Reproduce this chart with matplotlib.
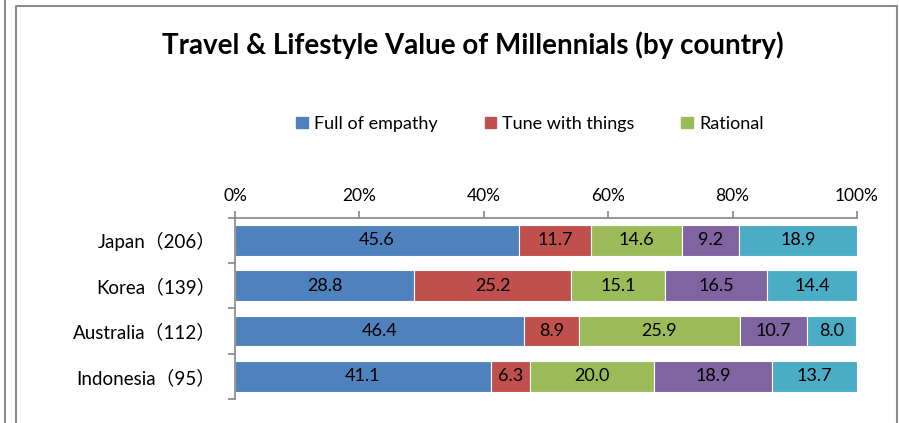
import matplotlib
matplotlib.use("Agg")
import matplotlib.pyplot as plt
from matplotlib.lines import Line2D
from matplotlib.ticker import FixedLocator, FuncFormatter
import numpy as np

plt.rcParams['font.family'] = ['Lato', 'Noto Sans CJK JP', 'DejaVu Sans']

countries = ["Japan（206）", "Korea（139）", "Australia（112）", "Indonesia（95）"]
full_of_empathy = [45.6, 28.8, 46.4, 41.1]
tune_with_things = [11.7, 25.2, 8.9, 6.3]
rational = [14.6, 15.1, 25.9, 20.0]
fourth_type = [9.2, 16.5, 10.7, 18.9]
fifth_type = [18.9, 14.4, 8.0, 13.7]
legend_labels = ["Full of empathy", "Tune with things", "Rational"]
x_ticks = [0, 20, 40, 60, 80, 100]

series = [full_of_empathy, tune_with_things, rational, fourth_type, fifth_type]
colors = ["#4F81BD", "#C0504D", "#9BBB59", "#8064A2", "#4BACC6"]
labels = legend_labels + ["_nolegend_", "_nolegend_"]

W, H = 899, 423
fig = plt.figure(figsize=(W / 100, H / 100), dpi=100)
ax = fig.add_axes([235 / W, 1 - 399 / H, (857 - 235) / W, (399 - 217.7) / H])

y = np.arange(len(countries))
left = np.zeros(len(countries))
for vals, col, lab in zip(series, colors, labels):
    vals = np.array(vals)
    ax.barh(y, vals, left=left, height=0.68, color=col,
            edgecolor="white", linewidth=0.8, label=lab)
    for yi, l, v in zip(y, left, vals):
        ax.text(l + v / 2, yi, f"{v:.1f}", ha="center", va="center",
                fontsize=13, color="black")
    left += vals

ax.set_xlim(0, 100)
ax.set_ylim(len(countries) - 0.5, -0.5)

ax.xaxis.set_ticks_position("top")
ax.xaxis.set_label_position("top")
ax.set_xticks(x_ticks)
ax.xaxis.set_major_formatter(FuncFormatter(lambda v, p: f"{int(v)}%"))
ax.tick_params(axis="x", which="major", direction="out", length=5,
               color="#868686", width=1.2, labelsize=12.5, pad=5)

ax.set_yticks(y)
ax.set_yticklabels(countries)
ax.yaxis.set_minor_locator(FixedLocator(np.arange(-0.5, len(countries), 1.0)))
ax.tick_params(axis="y", which="major", length=0, labelsize=13.5, pad=14)
ax.tick_params(axis="y", which="minor", direction="out", length=5,
               color="#868686", width=1.2)

for side in ("right", "bottom"):
    ax.spines[side].set_visible(False)
for side in ("top", "left"):
    ax.spines[side].set_color("#868686")
    ax.spines[side].set_linewidth(1.2)

fig.text(473 / W, 1 - 45 / H, "Travel & Lifestyle Value of Millennials (by country)",
         ha="center", va="center", fontsize=20, fontweight="bold", color="black")

handles = [plt.Rectangle((0, 0), 1, 1, color=c) for c in colors[:3]]
fig.legend(handles, legend_labels, loc="center", bbox_to_anchor=(530 / W, 1 - 124 / H),
           ncol=3, frameon=False, fontsize=13, handlelength=0.62, handleheight=0.62,
           handletextpad=0.35, columnspacing=2.6)

# outer frame lines
border = "#8c8c8c"
fig.add_artist(Line2D([4.5 / W, 4.5 / W], [0, 1], color=border, lw=1.5))
fig.add_artist(Line2D([16 / W, 16 / W, 897 / W, 897 / W],
                      [0, 1 - 6 / H, 1 - 6 / H, 0], color=border, lw=1.5))

fig.savefig("out.png", dpi=100, facecolor="white")
